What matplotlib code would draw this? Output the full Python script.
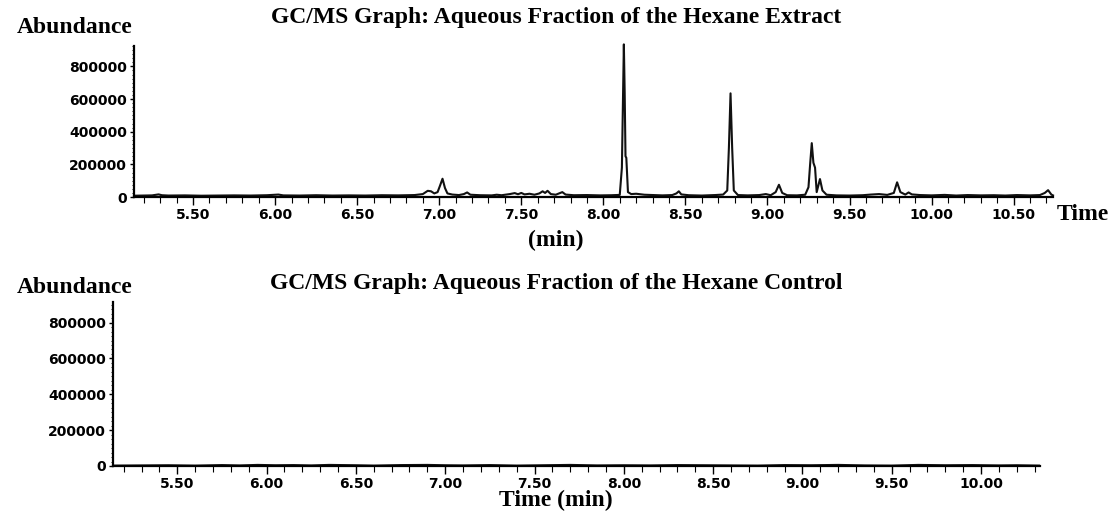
import matplotlib.pyplot as plt
from matplotlib.ticker import MultipleLocator, FixedLocator

# extract trace (time in min, abundance)
extract_time = [5.14, 5.20, 5.25, 5.29, 5.31, 5.35, 5.45, 5.55, 5.65, 5.75, 5.85, 5.95, 6.02, 6.05,
                6.15, 6.25, 6.35, 6.45, 6.55, 6.65, 6.75, 6.85, 6.90, 6.93, 6.95, 6.97, 6.99, 7.005,
                7.02, 7.035, 7.05, 7.08, 7.12, 7.15, 7.17, 7.19, 7.25, 7.32, 7.35, 7.38, 7.43, 7.46,
                7.48, 7.50, 7.52, 7.55, 7.58, 7.61, 7.63, 7.645, 7.66, 7.68, 7.71, 7.73, 7.75, 7.77,
                7.82, 7.90, 7.98, 8.05, 8.10, 8.113, 8.12, 8.125, 8.13, 8.135, 8.14, 8.15, 8.17, 8.20,
                8.25, 8.30, 8.36, 8.42, 8.445, 8.46, 8.475, 8.52, 8.60, 8.68, 8.73, 8.755, 8.765,
                8.775, 8.785, 8.795, 8.82, 8.88, 8.95, 8.99, 9.02, 9.05, 9.07, 9.09, 9.12, 9.18,
                9.23, 9.25, 9.26, 9.27, 9.28, 9.29, 9.30, 9.32, 9.335, 9.36, 9.42, 9.50, 9.58, 9.63,
                9.68, 9.73, 9.77, 9.79, 9.81, 9.84, 9.86, 9.88, 9.93, 10.00, 10.08, 10.15, 10.22,
                10.30, 10.38, 10.45, 10.52, 10.60, 10.66, 10.69, 10.71, 10.73, 10.74]
extract_abund = [8000, 9000, 10000, 16000, 11000, 9000, 10000, 8000, 9000, 10000, 9000, 11000, 15000, 10000,
                 9000, 11000, 9000, 10000, 9000, 11000, 10000, 12000, 18000, 38000, 35000, 22000, 30000, 70000,
                 112000, 55000, 22000, 15000, 12000, 18000, 28000, 14000, 11000, 10000, 14000, 11000, 18000, 24000,
                 17000, 25000, 16000, 20000, 14000, 22000, 35000, 25000, 38000, 18000, 14000, 22000, 30000, 15000,
                 11000, 12000, 10000, 11000, 13000, 180000, 620000, 935000, 640000, 250000, 240000, 30000, 18000, 20000,
                 14000, 12000, 10000, 12000, 22000, 35000, 16000, 11000, 9000, 12000, 15000, 40000, 300000,
                 635000, 300000, 40000, 12000, 10000, 12000, 18000, 11000, 30000, 75000, 25000, 11000, 10000,
                 14000, 60000, 200000, 330000, 210000, 180000, 30000, 110000, 40000, 14000, 10000, 9000, 11000, 15000,
                 18000, 13000, 25000, 90000, 30000, 15000, 28000, 16000, 12000, 10000, 13000, 9000, 12000,
                 10000, 11000, 9000, 12000, 10000, 12000, 25000, 42000, 15000, 10000]

# control trace: essentially flat
control_time = [5.14, 5.30, 5.45, 5.60, 5.75, 5.85, 5.95, 6.05, 6.15, 6.25, 6.35, 6.50, 6.60, 6.75,
                6.90, 7.00, 7.10, 7.25, 7.40, 7.55, 7.70, 7.85, 8.00, 8.15, 8.30, 8.45, 8.60, 8.75,
                8.90, 9.05, 9.20, 9.35, 9.50, 9.65, 9.80, 9.95, 10.10, 10.20, 10.33]
control_abund = [4000, 5000, 6000, 4000, 7000, 5000, 8000, 6000, 7000, 5000, 8000, 6000, 4000, 7000,
                 8000, 6000, 5000, 7000, 4000, 6000, 8000, 5000, 6000, 5000, 7000, 6000, 5000, 4000,
                 7000, 6000, 8000, 5000, 4000, 8000, 6000, 7000, 5000, 6000, 4000]

y_ticks = [0, 200000, 400000, 600000, 800000]
x_ticks_top = [5.5, 6.0, 6.5, 7.0, 7.5, 8.0, 8.5, 9.0, 9.5, 10.0, 10.5]
x_ticks_bottom = [5.5, 6.0, 6.5, 7.0, 7.5, 8.0, 8.5, 9.0, 9.5, 10.0]

serif = 'Liberation Serif'
tickfont = {'family': 'DejaVu Sans', 'weight': 'bold', 'size': 10}

fig = plt.figure(figsize=(11.11, 5.14), dpi=100)
ax1 = fig.add_axes([0.1206, 0.6167, 0.8272, 0.2938])
ax2 = fig.add_axes([0.1017, 0.0934, 0.8344, 0.3191])


def style_axis(ax, xlim, ylim, xticks):
    ax.set_xlim(*xlim)
    ax.set_ylim(*ylim)
    for s in ['top', 'right']:
        ax.spines[s].set_visible(False)
    for s in ['left', 'bottom']:
        ax.spines[s].set_linewidth(1.6)
    ax.xaxis.set_major_locator(FixedLocator(xticks))
    ax.xaxis.set_minor_locator(MultipleLocator(0.1))
    ax.yaxis.set_major_locator(FixedLocator(y_ticks))
    ax.yaxis.set_minor_locator(MultipleLocator(25000))
    ax.set_xticklabels(['%.2f' % v for v in xticks], fontdict=tickfont)
    ax.set_yticklabels([str(v) for v in y_ticks], fontdict=tickfont)
    ax.tick_params(axis='x', which='major', length=6, width=1, pad=2)
    ax.tick_params(axis='x', which='minor', length=4, width=0.8)
    ax.tick_params(axis='y', which='major', length=3, width=1, pad=2)
    ax.tick_params(axis='y', which='minor', length=1.5, width=0.6)


ax1.plot(extract_time, extract_abund, color='#111111', lw=1.5, clip_on=False)
style_axis(ax1, (5.14, 10.74), (0, 925000), x_ticks_top)

ax2.plot(control_time, control_abund, color='#111111', lw=1.0)
style_axis(ax2, (5.14, 10.33), (0, 915000), x_ticks_bottom)

fig.text(0.015, 0.947, 'Abundance', family=serif, weight='bold', fontsize=17, va='center')
fig.text(0.501, 0.965, 'GC/MS Graph: Aqueous Fraction of the Hexane Extract',
         family=serif, weight='bold', fontsize=17, ha='center', va='center')
fig.text(0.951, 0.582, 'Time', family=serif, weight='bold', fontsize=17, va='center')
fig.text(0.5, 0.533, '(min)', family=serif, weight='bold', fontsize=17, ha='center', va='center')

fig.text(0.015, 0.441, 'Abundance', family=serif, weight='bold', fontsize=17, va='center')
fig.text(0.501, 0.449, 'GC/MS Graph: Aqueous Fraction of the Hexane Control',
         family=serif, weight='bold', fontsize=17, ha='center', va='center')
fig.text(0.5, 0.027, 'Time (min)', family=serif, weight='bold', fontsize=17, ha='center', va='center')

fig.savefig('out.png', dpi=100)
